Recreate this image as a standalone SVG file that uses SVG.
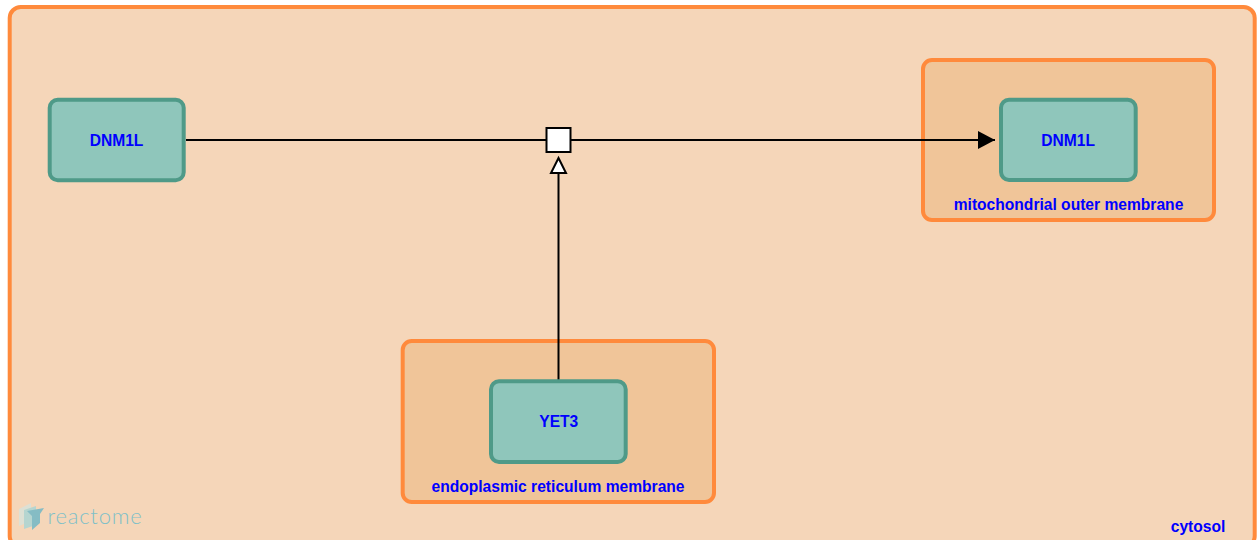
<svg xmlns="http://www.w3.org/2000/svg" width="1257" height="540" viewBox="0 0 1257 540">
<style>
.comp{stroke:#ff8a3c;stroke-width:4}
.inner{fill:#f0c599}
.prot{fill:#8fc6bb;stroke:#4f9a88;stroke-width:4}
text{font-family:"Liberation Sans",Arial,sans-serif;font-weight:700;font-size:15.6px;fill:#0000ff;text-anchor:middle}
.edge{fill:none;stroke:#000;stroke-width:2}
</style>
<defs>
<marker id="out" markerUnits="userSpaceOnUse" markerWidth="18" markerHeight="20" refX="17" refY="10" orient="auto"><path d="M0 1L17 10L0 19Z" fill="#000"/></marker>
</defs>
<rect width="1257" height="540" fill="#fff"/>
<g id="cytosol"><rect class="comp" x="9.700" y="7" width="1245" height="540" rx="11" fill="#f5d6b9"/><text x="1198" y="532">cytosol</text></g>
<g id="logo">
<path d="M19 509L31 503V521L19 526Z" fill="#dde0d4"/>
<path d="M24 510L36 506V525L24 529Z" fill="#b5d5d0"/>
<path d="M27 511L44 508L40 514V523L32 530V516Z" fill="#85bcc4"/>
<text x="95" y="524" style="font-family:Lato,'Noto Sans',sans-serif;font-weight:300;font-size:22px;fill:#7fc0c8;letter-spacing:0.800px">reactome</text>
</g>
<g id="mito"><rect class="comp inner" x="923" y="60" width="291" height="160" rx="9"/><text x="1068.500" y="210">mitochondrial outer membrane</text></g>
<g id="er"><rect class="comp inner" x="402.700" y="341" width="311.300" height="161" rx="9"/><text x="558" y="492">endoplasmic reticulum membrane</text></g>
<g id="connectors">
<path class="edge" d="M186 140H546"/>
<path class="edge" d="M571 140H995" marker-end="url(#out)"/>
<path class="edge" d="M558.500 381V173"/>
<path d="M558.500 158L566 173H551Z" fill="#fff" stroke="#000" stroke-width="2"/>
<rect x="546.500" y="128" width="24" height="24" fill="#fff" stroke="#000" stroke-width="2"/>
</g>
<g id="dnm1l-a"><rect class="prot" x="49.700" y="99.700" width="134" height="80.600" rx="8"/><text x="116.500" y="146">DNM1L</text></g>
<g id="dnm1l-b"><rect class="prot" x="1001" y="99.700" width="134.700" height="80.300" rx="8"/><text x="1068.200" y="146">DNM1L</text></g>
<g id="yet3"><rect class="prot" x="491" y="381.300" width="134.700" height="80.700" rx="8"/><text x="558.800" y="427">YET3</text></g>
</svg>
